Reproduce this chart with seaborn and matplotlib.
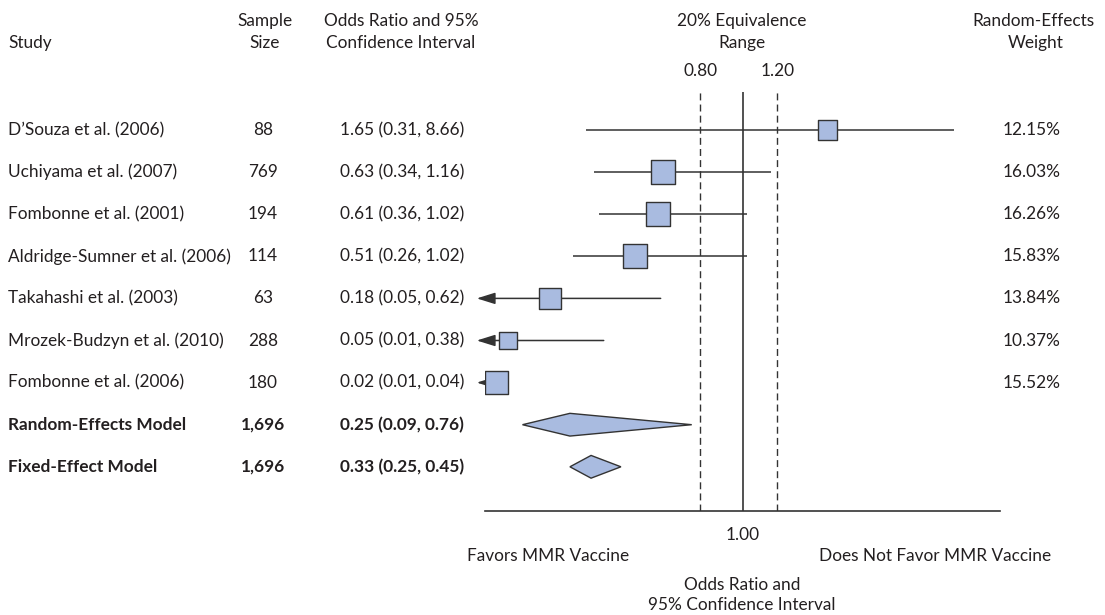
import numpy as np
import pandas as pd
import matplotlib
matplotlib.use("Agg")
import matplotlib.pyplot as plt
import matplotlib.transforms as mtransforms
import seaborn as sns

# ---------------- data ----------------
studies = ["D\u2019Souza et al. (2006)", "Uchiyama et al. (2007)", "Fombonne et al. (2001)",
           "Aldridge-Sumner et al. (2006)", "Takahashi et al. (2003)",
           "Mrozek-Budzyn et al. (2010)", "Fombonne et al. (2006)"]
sample_sizes = [88, 769, 194, 114, 63, 288, 180]
odds_ratios = [1.65, 0.63, 0.61, 0.51, 0.18, 0.05, 0.02]
ci_lower = [0.31, 0.34, 0.36, 0.26, 0.05, 0.01, 0.01]
ci_upper = [8.66, 1.16, 1.02, 1.02, 0.62, 0.38, 0.04]
weights = [12.15, 16.03, 16.26, 15.83, 13.84, 10.37, 15.52]

models = ["Random-Effects Model", "Fixed-Effect Model"]
model_sizes = [1696, 1696]
model_or = [0.25, 0.33]
model_lower = [0.09, 0.25]
model_upper = [0.76, 0.45]

equivalence_bounds = [0.80, 1.20]
null_value = 1.00
display_floor = 0.06   # intervals reaching below this are drawn as truncated arrows

# ---------------- style ----------------
sns.set_theme(style="white")
plt.rcParams["font.family"] = ["Lato", "DejaVu Sans"]
TXT = "#231f20"
LINE = "#333333"
FILL = "#a9bbe0"
FS = 12.4

W, H = 1105, 615
fig = plt.figure(figsize=(W / 100, H / 100), dpi=100)
ROW0, STEP = 130.0, 42.1
AX_TOP, AX_BOT, AX_L, AX_R = 92.0, 510.5, 485.0, 1000.0
ax = fig.add_axes([AX_L / W, 1 - AX_BOT / H, (AX_R - AX_L) / W, (AX_BOT - AX_TOP) / H])

# bounded log-type scale (compresses extreme odds ratios)
C = 1.25
def fwd(x):
    x = np.asarray(x, dtype=float)
    l = np.log(np.clip(x, 1e-300, None))
    return np.sign(l) * (1 - np.exp(-np.abs(l) / C))

def inv(y):
    y = np.clip(np.asarray(y, dtype=float), -0.9999999, 0.9999999)
    return np.exp(np.sign(y) * (-C * np.log(1 - np.abs(y))))

ax.set_xscale("function", functions=(fwd, inv))
ax.set_xlim(inv(-0.9999), inv(0.9999))
ax.set_ylim((AX_BOT - ROW0) / STEP, (AX_TOP - ROW0) / STEP)

n = len(studies)
rows = np.arange(n)
model_rows = np.arange(n, n + len(models))

df = pd.DataFrame({"study": studies, "n": sample_sizes, "OR": odds_ratios,
                   "lo": ci_lower, "hi": ci_upper, "w": weights, "row": rows})

# reference lines
ax.axvline(null_value, color=LINE, lw=1.2, zorder=1)
for b in equivalence_bounds:
    ax.axvline(b, color=LINE, lw=1.0, ls=(0, (5, 3)), zorder=1)

# confidence intervals
for _, r in df.iterrows():
    if r["lo"] < display_floor:
        ax.annotate("", xy=(-0.016, r["row"]), xycoords=("axes fraction", "data"),
                    xytext=(r["hi"], r["row"]), textcoords="data",
                    arrowprops=dict(arrowstyle="-|>,head_length=0.8,head_width=0.25",
                                    color=LINE, lw=1.1, shrinkA=0, shrinkB=0,
                                    mutation_scale=14),
                    zorder=2, annotation_clip=False)
    else:
        ax.hlines(r["row"], r["lo"], r["hi"], color=LINE, lw=1.1, zorder=2)

# study squares
sns.scatterplot(data=df, x="OR", y="row", size="w", sizes=(165, 300),
                size_norm=(min(weights), max(weights)), marker="s",
                color=FILL, edgecolor=LINE, linewidth=1.0, legend=False,
                ax=ax, zorder=3)

# summary diamonds
h = 0.27
for r, est, lo, hi in zip(model_rows, model_or, model_lower, model_upper):
    ax.fill([lo, est, hi, est], [r, r - h, r, r + h], facecolor=FILL,
            edgecolor=LINE, lw=1.0, zorder=3)

# axes styling
for s in ["top", "left", "right"]:
    ax.spines[s].set_visible(False)
ax.spines["bottom"].set_color(LINE)
ax.spines["bottom"].set_linewidth(1.2)
ax.set_yticks([])
ax.set_xticks([null_value])
ax.set_xticklabels([f"{null_value:.2f}"])
ax.xaxis.set_minor_locator(matplotlib.ticker.NullLocator())
ax.tick_params(axis="x", length=0, pad=12, labelsize=FS, colors=TXT)
ax.set_xlabel("")
ax.set_ylabel("")
ax.patch.set_alpha(0)

# ---------------- text ----------------
def fx(px):
    return px / W

def fy(py):
    return 1 - py / H

row_tr = mtransforms.blended_transform_factory(fig.transFigure, ax.transData)
top_tr = mtransforms.blended_transform_factory(ax.transData, fig.transFigure)

kw = dict(color=TXT, fontsize=FS)
# headers
fig.text(fx(8), fy(43), "Study", ha="left", va="center", **kw)
fig.text(fx(265), fy(21), "Sample", ha="center", va="center", **kw)
fig.text(fx(265), fy(43), "Size", ha="center", va="center", **kw)
fig.text(fx(401), fy(21), "Odds Ratio and 95%", ha="center", va="center", **kw)
fig.text(fx(401), fy(43), "Confidence Interval", ha="center", va="center", **kw)
fig.text(fx(742), fy(21), "20% Equivalence", ha="center", va="center", **kw)
fig.text(fx(742), fy(43), "Range", ha="center", va="center", **kw)
fig.text(fx(1094), fy(21), "Random-Effects", ha="right", va="center", **kw)
fig.text(fx(1036), fy(43), "Weight", ha="center", va="center", **kw)
for b in equivalence_bounds:
    ax.text(b, fy(71), f"{b:.2f}", transform=top_tr, ha="center", va="center", **kw)

# study rows
for _, r in df.iterrows():
    y = r["row"]
    ax.text(fx(8), y, r["study"], transform=row_tr, ha="left", va="center", **kw)
    ax.text(fx(263), y, f"{int(r['n']):,}", transform=row_tr, ha="center", va="center", **kw)
    ax.text(fx(402), y, f"{r['OR']:.2f} ({r['lo']:.2f}, {r['hi']:.2f})",
            transform=row_tr, ha="center", va="center", **kw)
    ax.text(fx(1003), y, f"{r['w']:.2f}%", transform=row_tr, ha="left", va="center", **kw)

for r, name, ns, est, lo, hi in zip(model_rows, models, model_sizes, model_or,
                                     model_lower, model_upper):
    ax.text(fx(8), r, name, transform=row_tr, ha="left", va="center",
            fontweight="bold", **kw)
    ax.text(fx(263), r, f"{ns:,}", transform=row_tr, ha="center", va="center",
            fontweight="bold", **kw)
    ax.text(fx(402), r, f"{est:.2f} ({lo:.2f}, {hi:.2f})", transform=row_tr,
            ha="center", va="center", fontweight="bold", **kw)

# bottom labels
fig.text(fx(548), fy(556), "Favors MMR Vaccine", ha="center", va="center", **kw)
fig.text(fx(935), fy(556), "Does Not Favor MMR Vaccine", ha="center", va="center", **kw)
fig.text(fx(742), fy(585), "Odds Ratio and", ha="center", va="center", **kw)
fig.text(fx(742), fy(605), "95% Confidence Interval", ha="center", va="center", **kw)

fig.savefig("out.png", dpi=100, facecolor="white")
